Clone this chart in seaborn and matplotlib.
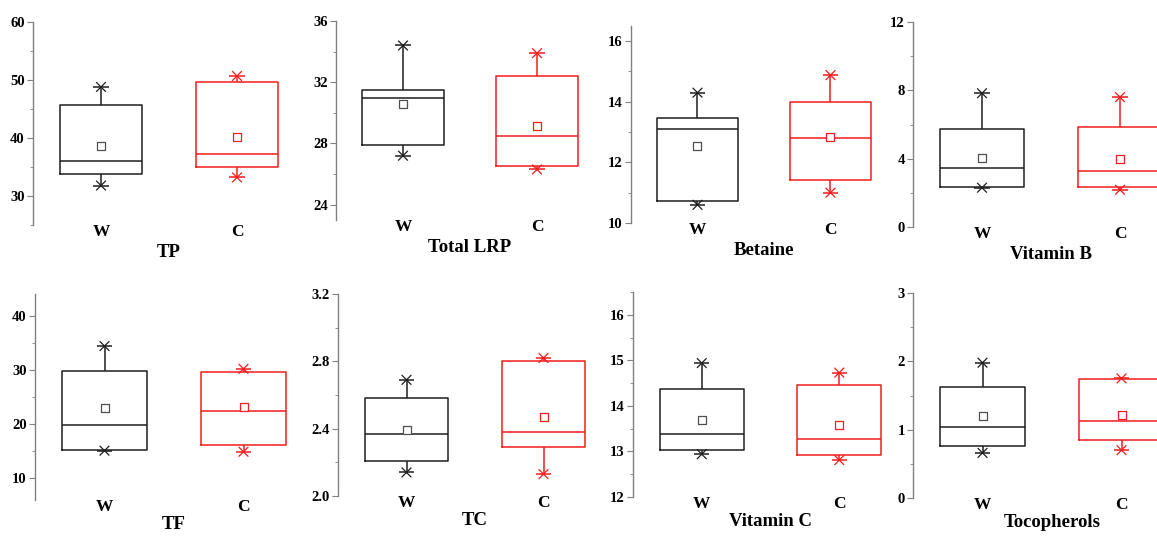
import numpy as np
import pandas as pd
import matplotlib
matplotlib.use('Agg')
import matplotlib.pyplot as plt
import seaborn as sns
from matplotlib.ticker import MultipleLocator, FormatStrFormatter

panels = ['TP', 'Total LRP', 'Betaine', 'Vitamin B', 'TF', 'TC', 'Vitamin C', 'Tocopherols']
groups = ['W', 'C']

# values: whisker ends, quartiles, median, mean
w_low = [31.8, 27.2, 10.6, 2.30, 15.1, 2.14, 12.94, 0.66]
w_q1 = [33.8, 27.9, 10.71, 2.37, 15.2, 2.21, 13.03, 0.755]
w_med = [36.1, 31.0, 13.09, 3.48, 19.8, 2.37, 13.38, 1.04]
w_q3 = [45.7, 31.5, 13.48, 5.73, 29.85, 2.58, 14.36, 1.63]
w_high = [48.8, 34.4, 14.3, 7.83, 34.4, 2.69, 14.94, 1.98]
w_mean = [38.6, 30.57, 12.54, 4.03, 22.9, 2.39, 13.70, 1.20]

c_low = [33.2, 26.3, 11.0, 2.18, 14.9, 2.13, 12.81, 0.70]
c_q1 = [35.0, 26.5, 11.41, 2.37, 16.1, 2.29, 12.92, 0.85]
c_med = [37.3, 28.5, 12.8, 3.25, 22.5, 2.38, 13.28, 1.13]
c_q3 = [49.7, 32.4, 14.0, 5.84, 29.7, 2.80, 14.45, 1.74]
c_high = [50.7, 33.9, 14.88, 7.60, 30.2, 2.82, 14.73, 1.75]
c_mean = [40.2, 29.16, 12.84, 3.99, 23.2, 2.47, 13.58, 1.21]

# axis limits and major tick step per panel
y_min = [25, 23, 10, 0, 6, 2.0, 12, 0]
y_max = [60, 36, 16.5, 12, 44, 3.2, 16.5, 3]
y_step = [10, 4, 2, 4, 10, 0.4, 1, 1]
y_fmt = ['%d', '%d', '%d', '%d', '%d', '%.1f', '%d', '%d']

# panel placement in pixels: spine x, top y, bottom y, width
layout = [
    (33, 22, 225, 272), (336, 21, 220, 268), (631, 26, 223, 266), (913, 22, 227, 276),
    (35, 294, 500, 278), (338, 294, 496, 274), (633, 292, 497, 275), (913, 293, 498, 278),
]

rows = []
for i, p in enumerate(panels):
    for g, vals in (('W', (w_low, w_q1, w_med, w_q3, w_high)),
                    ('C', (c_low, c_q1, c_med, c_q3, c_high))):
        for arr in vals:
            rows.append({'panel': p, 'group': g, 'value': arr[i]})
box_df = pd.DataFrame(rows)

ends_df = pd.DataFrame(
    [{'panel': p, 'group': 'W', 'value': w_low[i]} for i, p in enumerate(panels)]
    + [{'panel': p, 'group': 'W', 'value': w_high[i]} for i, p in enumerate(panels)]
    + [{'panel': p, 'group': 'C', 'value': c_low[i]} for i, p in enumerate(panels)]
    + [{'panel': p, 'group': 'C', 'value': c_high[i]} for i, p in enumerate(panels)]
)
mean_df = pd.DataFrame(
    [{'panel': p, 'group': 'W', 'value': w_mean[i]} for i, p in enumerate(panels)]
    + [{'panel': p, 'group': 'C', 'value': c_mean[i]} for i, p in enumerate(panels)]
)

sns.set_style('white')
plt.rcParams['font.family'] = ['Liberation Serif', 'DejaVu Serif']
plt.rcParams['font.weight'] = 'bold'
plt.rcParams['axes.labelweight'] = 'bold'
plt.rcParams['axes.labelcolor'] = 'black'
plt.rcParams['text.color'] = 'black'

palette = {'W': '#1e1e1e', 'C': '#f21c1c'}
mean_palette = {'W': '#505050', 'C': '#f02020'}

W_PX, H_PX = 1157, 536
fig = plt.figure(figsize=(W_PX / 100, H_PX / 100), dpi=100)

for i, p in enumerate(panels):
    x0, top, bot, wpx = layout[i]
    ax = fig.add_axes([x0 / W_PX, 1 - bot / H_PX, wpx / W_PX, (bot - top) / H_PX])
    sub = box_df[box_df['panel'] == p]
    sns.boxplot(data=sub, x='group', y='value', hue='group', order=groups, hue_order=groups,
                palette=palette, fill=False, whis=(0, 100), width=0.61, linewidth=1.1,
                showcaps=False, legend=False, ax=ax)
    ends = ends_df[ends_df['panel'] == p]
    sns.stripplot(data=ends, x='group', y='value', hue='group', order=groups, hue_order=groups,
                  palette=palette, marker='x', size=7, linewidth=0.9, jitter=False,
                  legend=False, ax=ax)
    sns.stripplot(data=ends, x='group', y='value', hue='group', order=groups, hue_order=groups,
                  palette=palette, marker='_', size=11, linewidth=1.1, jitter=False,
                  legend=False, ax=ax)
    n0 = len(ax.collections)
    means = mean_df[mean_df['panel'] == p]
    sns.stripplot(data=means, x='group', y='value', hue='group', order=groups, hue_order=groups,
                  palette=mean_palette, marker='s', size=5.5, linewidth=0.9, jitter=False,
                  legend=False, ax=ax)
    for coll in ax.collections[n0:]:
        fc = coll.get_facecolors()
        coll.set_edgecolors(fc)
        coll.set_facecolors('white')
        coll.set_zorder(5)

    ax.set_xlim(-0.5, 1.5)
    ax.set_ylim(y_min[i], y_max[i])
    ax.yaxis.set_major_locator(MultipleLocator(y_step[i]))
    ax.yaxis.set_minor_locator(MultipleLocator(y_step[i] / 2))
    ax.yaxis.set_major_formatter(FormatStrFormatter(y_fmt[i]))
    ax.tick_params(axis='y', which='major', direction='out', length=4.5, width=0.8,
                   color='#808080', labelsize=10.5, labelcolor='black', pad=1.5, left=True)
    ax.tick_params(axis='y', which='minor', direction='out', length=2.5, width=0.7,
                   color='#909090', left=True)
    ax.tick_params(axis='x', length=0, labelsize=12.5, labelcolor='black', pad=-1)
    for s in ['top', 'right', 'bottom']:
        ax.spines[s].set_visible(False)
    ax.spines['left'].set_color('#808080')
    ax.spines['left'].set_linewidth(1.0)
    ax.set_ylabel('')
    ax.set_xlabel(p, fontsize=13.5, fontweight='bold', color='black',
                  labelpad=3 if i < 4 else 1)
    ax.patch.set_alpha(0)

fig.savefig('out.png', dpi=100)
